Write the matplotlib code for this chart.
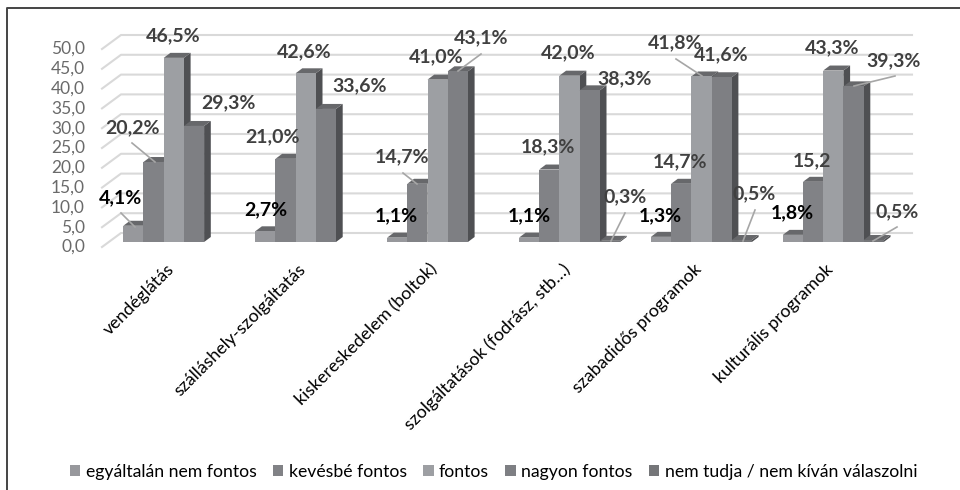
# -*- coding: utf-8 -*-
import matplotlib
matplotlib.use('Agg')
import matplotlib.pyplot as plt
from matplotlib.patches import Polygon, Patch
from matplotlib.transforms import Affine2D

plt.rcParams['font.family'] = ['Lato', 'DejaVu Sans']

categories = ['vendéglátás', 'szálláshely-szolgáltatás', 'kiskereskedelem (boltok)',
              'szolgáltatások (fodrász, stb…)', 'szabadidős programok', 'kulturális programok']
series_names = ['egyáltalán nem fontos', 'kevésbé fontos', 'fontos', 'nagyon fontos',
                'nem tudja / nem kíván válaszolni']
egyaltalan = [4.1, 2.7, 1.1, 1.1, 1.3, 1.8]
kevesbe = [20.2, 21.0, 14.7, 18.3, 14.7, 15.2]
fontos = [46.5, 42.6, 41.0, 42.0, 41.8, 43.3]
nagyon = [29.3, 33.6, 43.1, 38.3, 41.6, 39.3]
nem_tudja = [0.0, 0.0, 0.0, 0.3, 0.5, 0.5]
series = [egyaltalan, kevesbe, fontos, nagyon, nem_tudja]
y_ticks = [0, 5, 10, 15, 20, 25, 30, 35, 40, 45, 50]

colors = ['#97989c', '#818286', '#9d9fa3', '#7e7f83', '#757679']
top_color = '#67686b'
side_color = '#4f5053'
grid_color = '#d9d9d9'
text_color = '#404040'

# pixel geometry of the picture
W, H = 960, 490
PX_PER_X = 131.9
PX_PER_Y = 3.96
X_ORIGIN = 173.8
Y_ORIGIN = 242.0
BAR_W = 20.2 / PX_PER_X
DX = 6.7 / PX_PER_X
DY = 5.0 / PX_PER_Y

fig = plt.figure(figsize=(W / 100, H / 100), dpi=100)
ax = fig.add_axes([0, 0, 1, 1])
ax.set_xlim(-X_ORIGIN / PX_PER_X, (W - X_ORIGIN) / PX_PER_X)
ax.set_ylim((Y_ORIGIN - H) / PX_PER_Y, Y_ORIGIN / PX_PER_Y)
ax.axis('off')

# texts placed in picture pixels, y going down
px = Affine2D().scale(1, -1).translate(0, H)

# frame
ax.plot([7, 7, W], [H, 8, 8], color='#444444', lw=1.4, transform=px, clip_on=False)

# back wall lines with the slanted part on the left
wall_x0 = (121 - X_ORIGIN) / PX_PER_X
wall_x1 = (912 - X_ORIGIN) / PX_PER_X
wall_dx = 19 / PX_PER_X
for t in y_ticks:
    back = t + 9 / PX_PER_Y
    front = t - 5 / PX_PER_Y
    ax.plot([wall_x0 - wall_dx, wall_x0, wall_x1], [front, back, back],
            color=grid_color, lw=1.5, zorder=1)
    ax.text(85, 247 - t * PX_PER_Y, f'{t:.1f}'.replace('.', ','), transform=px,
            ha='right', va='center', fontsize=12.5, color='#6a6a6a')

# 3D look bars, drawn left to right so the next front covers the side
z = 2
for i in range(len(categories)):
    for j, values in enumerate(series):
        v = values[i]
        if v == 0:
            continue
        x0 = i + (j - 2.5) * BAR_W
        x1 = x0 + BAR_W
        ax.add_patch(Polygon([(x1, 0), (x1 + DX, DY), (x1 + DX, v + DY), (x1, v)],
                             facecolor=side_color, edgecolor='none', zorder=z))
        ax.add_patch(Polygon([(x0, v), (x0 + DX, v + DY), (x1 + DX, v + DY), (x1, v)],
                             facecolor=top_color, edgecolor='none', zorder=z))
        ax.bar(x0, v, width=BAR_W, align='edge', color=colors[j], zorder=z + 1)
        z += 2

# value labels, centres in pixels
label_pos = [
    [(120, 198), (266, 210), (396, 216), (529, 216), (660, 216), (792, 213)],
    [(132, 128), (273, 137), (402, 157), (548, 147), (680, 162), (812, 161)],
    [(173, 36), (304, 52), (436, 57), (568, 53), (675, 43), (832, 48)],
    [(228, 103), (360, 86), (481, 38), (625, 79), (721, 55), (894, 61)],
    [None, None, None, (625, 197), (754, 194), (897, 212)],
]
leaders = [
    ((121, 213), (135, 227)), ((132, 143), (155, 162)), ((403, 173), (417, 184)),
    ((481, 54), (458, 71)), ((625, 213), (611, 241)), ((676, 59), (702, 76)),
    ((755, 210), (743, 241)), ((895, 76), (854, 86)), ((897, 227), (873, 241)),
]
for (a, b) in leaders:
    ax.plot([a[0], b[0]], [a[1], b[1]], color='#a6a6a6', lw=1.2, transform=px, zorder=500)

for j, values in enumerate(series):
    for i, v in enumerate(values):
        if label_pos[j][i] is None:
            continue
        s = f'{v:.1f}'.replace('.', ',')
        if not (j == 1 and i == 5):
            s += '%'
        c = 'black' if j == 0 else text_color
        ax.text(label_pos[j][i][0], label_pos[j][i][1], s, transform=px, ha='center', va='center',
                fontsize=14, fontweight='bold', color=c, zorder=600)

# category labels
for i, name in enumerate(categories):
    ax.text(i - 8 / PX_PER_X, -(261 - Y_ORIGIN) / PX_PER_Y, name, rotation=45, rotation_mode='anchor',
            ha='right', va='top', fontsize=12.8, color='black')

# legend
handles = [Patch(facecolor=c, edgecolor='none') for c in colors]
ax.legend(handles, series_names, ncol=5, loc='center', bbox_to_anchor=(493.5, 472),
          bbox_transform=px, frameon=False, fontsize=12.7, handlelength=0.6, handleheight=0.6,
          handletextpad=0.3, columnspacing=0.92, borderpad=0, labelcolor='black')

plt.savefig('out.png', dpi=100, facecolor='white')
plt.close()
